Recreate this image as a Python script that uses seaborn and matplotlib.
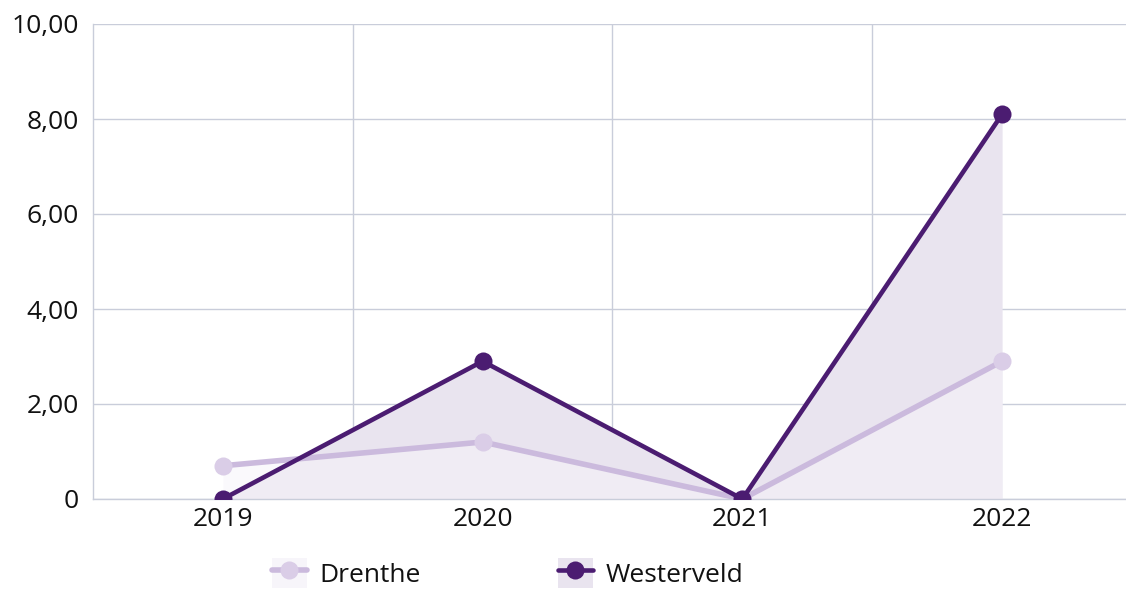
import pandas as pd
import matplotlib.pyplot as plt
import seaborn as sns
from matplotlib.lines import Line2D
from matplotlib.patches import Rectangle
from matplotlib.legend_handler import HandlerTuple

years = ['2019', '2020', '2021', '2022']
drenthe = [0.7, 1.2, 0.0, 2.9]
westerveld = [0.0, 2.9, 0.0, 8.1]
series_names = ['Drenthe', 'Westerveld']
y_ticks = [0, 2, 4, 6, 8, 10]
y_labels = ['0', '2,00', '4,00', '6,00', '8,00', '10,00']

line_colors = {'Drenthe': '#cbbadd', 'Westerveld': '#4b1c71'}
marker_colors = {'Drenthe': '#dacde7', 'Westerveld': '#4b1c71'}
fill_colors = {'Drenthe': '#f7f5fa', 'Westerveld': '#e9e4ef'}

df = pd.DataFrame({
    'year': years * 2,
    'x': list(range(len(years))) * 2,
    'value': drenthe + westerveld,
    'series': ['Drenthe'] * 4 + ['Westerveld'] * 4,
})

sns.set_style('white')
plt.rcParams['font.family'] = ['Open Sans', 'DejaVu Sans']

fig = plt.figure(figsize=(11.26, 5.9), dpi=100)
ax = fig.add_axes([93 / 1126, 1 - 499 / 590, 1 - 93 / 1126, (499 - 24) / 590])

# area fills under both series
ax.fill_between(range(len(years)), westerveld, 0, color=fill_colors['Westerveld'], zorder=1, linewidth=0)
ax.fill_between(range(len(years)), drenthe, 0, color=fill_colors['Drenthe'], alpha=0.5, zorder=1, linewidth=0)

for name, lw in [('Drenthe', 4), ('Westerveld', 3.3)]:
    sub = df[df['series'] == name]
    sns.lineplot(data=sub, x='x', y='value', ax=ax, color=line_colors[name],
                 linewidth=lw, marker='o', markersize=13,
                 markerfacecolor=marker_colors[name], markeredgewidth=0,
                 zorder=3 if name == 'Westerveld' else 2, legend=False)

ax.set_xlim(-0.5, 3.477)
ax.set_ylim(0, 10)
ax.set_yticks(y_ticks)
ax.set_yticklabels(y_labels)
ax.set_xticks(range(len(years)))
ax.set_xticklabels(years)
ax.set_xticks([0.5, 1.5, 2.5], minor=True)
ax.set_xlabel('')
ax.set_ylabel('')

grid_c = '#c9cdda'
ax.grid(axis='y', which='major', color=grid_c, linewidth=1, zorder=0)
ax.grid(axis='x', which='minor', color=grid_c, linewidth=1, zorder=0)
ax.grid(axis='x', which='major', visible=False)
ax.set_axisbelow(True)
for s in ['top', 'right']:
    ax.spines[s].set_visible(False)
for s in ['left', 'bottom']:
    ax.spines[s].set_color(grid_c)
    ax.spines[s].set_linewidth(1)
ax.tick_params(axis='both', which='both', length=0, labelsize=19, colors='#111111', pad=6)
ax.tick_params(axis='y', pad=10)

handles = []
for name in series_names:
    box = Rectangle((0, 0), 1, 1, facecolor=fill_colors[name], edgecolor='none')
    ln = Line2D([], [], color=line_colors[name], linewidth=4 if name == 'Drenthe' else 3.3,
                marker='o', markersize=13, markerfacecolor=marker_colors[name], markeredgewidth=0)
    handles.append((box, ln))

fig.legend(handles, series_names, handler_map={tuple: HandlerTuple(ndivide=1, pad=0)},
           loc='center', bbox_to_anchor=(0.4505, 1 - 573 / 590), ncol=2, frameon=False,
           fontsize=19, handlelength=1.35, handleheight=1.35, columnspacing=5.2, handletextpad=0.45,
           labelcolor='#111111')

fig.savefig('out.png', dpi=100)
